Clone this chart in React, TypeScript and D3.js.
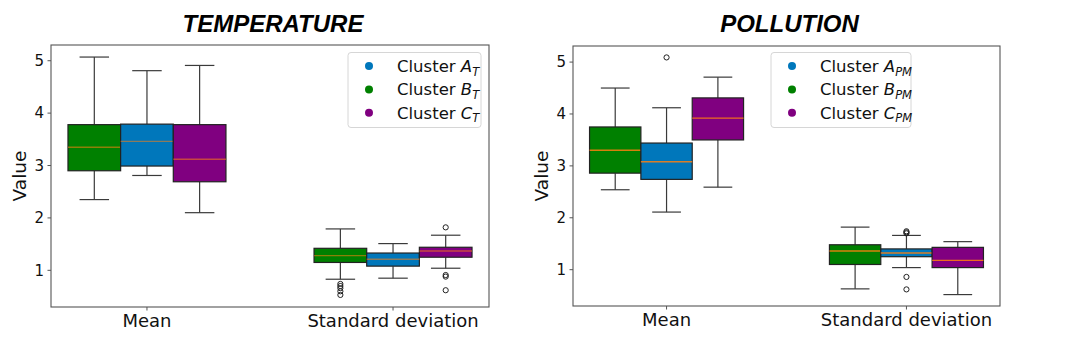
import React from "react";
import * as d3 from "d3";

// ---------- data ----------
const groups = ["Mean", "Standard deviation"];
const yTicks = [1, 2, 3, 4, 5];

// box order inside each group: green, blue, purple
// stats: [lower whisker, Q1, median, Q3, upper whisker] for [Mean, Standard deviation]
const tempGreen = [[2.35, 2.9, 3.35, 3.78, 5.07], [0.83, 1.15, 1.28, 1.42, 1.79]];
const tempBlue = [[2.81, 2.99, 3.46, 3.79, 4.81], [0.85, 1.08, 1.21, 1.33, 1.51]];
const tempPurple = [[2.1, 2.69, 3.12, 3.78, 4.91], [1.04, 1.25, 1.37, 1.44, 1.67]];
const tempGreenOut = [[], [0.74, 0.7, 0.66, 0.6, 0.53]];
const tempBlueOut = [[], []];
const tempPurpleOut = [[], [1.82, 0.91, 0.88, 0.62]];

const polGreen = [[2.54, 2.86, 3.3, 3.75, 4.5], [0.63, 1.1, 1.36, 1.48, 1.82]];
const polBlue = [[2.11, 2.74, 3.08, 3.44, 4.12], [1.04, 1.25, 1.32, 1.4, 1.66]];
const polPurple = [[2.59, 3.5, 3.92, 4.31, 4.71], [0.52, 1.04, 1.18, 1.43, 1.54]];
const polGreenOut = [[], []];
const polBlueOut = [[5.09], [1.74, 1.72, 1.7, 0.86, 0.62]];
const polPurpleOut = [[], []];

const tempLegend = [
  { letter: "A", sub: "T" },
  { letter: "B", sub: "T" },
  { letter: "C", sub: "T" },
];
const polLegend = [
  { letter: "A", sub: "PM" },
  { letter: "B", sub: "PM" },
  { letter: "C", sub: "PM" },
];

// ---------- styles ----------
const BOX_COLORS = ["#008000", "#0077bb", "#800080"];
const LEGEND_COLORS = ["#0077bb", "#008000", "#800080"];
const FONT = "'DejaVu Sans', sans-serif";

type PanelProps = {
  title: string;
  x0: number;
  x1: number;
  y0: number;
  y1: number;
  yMax: number;
  series: number[][][];
  outliers: number[][][];
  legend: { letter: string; sub: string }[];
  legendBox: { x: number; w: number };
  medianOpacity: number;
};

function Panel(p: PanelProps) {
  const x = d3.scalePoint<string>().domain(groups).range([p.x0, p.x1]).padding(0.39);
  const y = d3.scaleLinear().domain([0.3, p.yMax]).range([p.y1, p.y0]);
  const step = x.step();
  const bw = step * 0.214;
  const capW = bw * 0.56;
  const cx = (p.x0 + p.x1) / 2;

  return (
    <g>
      <text
        x={cx + 3}
        y={32}
        textAnchor="middle"
        fontFamily="'Liberation Sans', Arial, sans-serif"
        fontWeight="bold"
        fontStyle="italic"
        fontSize={24}
      >
        {p.title}
      </text>

      {/* boxes */}
      {groups.map((g, gi) =>
        p.series.map((s, si) => {
          const [lo, q1, med, q3, hi] = s[gi];
          const c = (x(g) as number) + (si - 1) * bw;
          const left = c - bw / 2;
          return (
            <g key={g + si}>
              <line x1={c} x2={c} y1={y(q3)} y2={y(hi)} stroke="#3a3a3a" strokeWidth={1.2} />
              <line x1={c} x2={c} y1={y(q1)} y2={y(lo)} stroke="#3a3a3a" strokeWidth={1.2} />
              <line x1={c - capW / 2} x2={c + capW / 2} y1={y(hi)} y2={y(hi)} stroke="#3a3a3a" strokeWidth={1.2} />
              <line x1={c - capW / 2} x2={c + capW / 2} y1={y(lo)} y2={y(lo)} stroke="#3a3a3a" strokeWidth={1.2} />
              <rect
                x={left}
                y={y(q3)}
                width={bw}
                height={y(q1) - y(q3)}
                fill={BOX_COLORS[si]}
                stroke="#222"
                strokeWidth={1.2}
              />
              <line
                x1={left}
                x2={left + bw}
                y1={y(med)}
                y2={y(med)}
                stroke="#ff7f0e"
                strokeOpacity={p.medianOpacity}
                strokeWidth={1.4}
              />
              {p.outliers[si][gi].map((v, k) => (
                <circle key={k} cx={c} cy={y(v)} r={2.6} fill="none" stroke="#222" strokeWidth={1} />
              ))}
            </g>
          );
        })
      )}

      {/* frame */}
      <rect x={p.x0} y={p.y0} width={p.x1 - p.x0} height={p.y1 - p.y0} fill="none" stroke="#555" strokeWidth={1.1} />

      {/* y axis */}
      {yTicks.map((t) => (
        <g key={t}>
          <line x1={p.x0 - 3.5} x2={p.x0} y1={y(t)} y2={y(t)} stroke="#555" strokeWidth={1} />
          <text x={p.x0 - 7} y={y(t) + 5.3} textAnchor="end" fontFamily={FONT} fontSize={15} fill="#111">
            {t}
          </text>
        </g>
      ))}
      <text
        transform={`translate(${p.x0 - 25},${(p.y0 + p.y1) / 2}) rotate(-90)`}
        textAnchor="middle"
        fontFamily={FONT}
        fontSize={18.5}
        fill="#111"
      >
        Value
      </text>

      {/* x axis */}
      {groups.map((g) => (
        <g key={g}>
          <line x1={x(g) as number} x2={x(g) as number} y1={p.y1} y2={p.y1 + 3.5} stroke="#555" strokeWidth={1} />
          <text x={x(g) as number} y={p.y1 + 20} textAnchor="middle" fontFamily={FONT} fontSize={18} fill="#111">
            {g}
          </text>
        </g>
      ))}

      {/* legend */}
      <rect
        x={p.legendBox.x}
        y={52.5}
        width={p.legendBox.w}
        height={75}
        rx={3}
        fill="white"
        fillOpacity={0.8}
        stroke="#d6d6d6"
        strokeWidth={1}
      />
      {p.legend.map((l, i) => {
        const ly = 66 + i * 23.4;
        return (
          <g key={i}>
            <circle cx={p.legendBox.x + 21} cy={ly} r={4} fill={LEGEND_COLORS[i]} />
            <text x={p.legendBox.x + 49} y={ly + 6} fontFamily={FONT} fontSize={16.5} fill="#111">
              Cluster{" "}
              <tspan fontStyle="italic">{l.letter}</tspan>
              <tspan fontStyle="italic" fontSize={11.5} dy={3.5}>
                {l.sub}
              </tspan>
            </text>
          </g>
        );
      })}
    </g>
  );
}

export default function App() {
  return (
    <div style={{ position: "absolute", left: 0, top: 0 }}>
      <svg width={1080} height={339} style={{ display: "block", background: "white" }}>
        <Panel
          title="TEMPERATURE"
          x0={51}
          x1={489}
          y0={45}
          y1={307}
          yMax={5.3}
          series={[tempGreen, tempBlue, tempPurple]}
          outliers={[tempGreenOut, tempBlueOut, tempPurpleOut]}
          legend={tempLegend}
          legendBox={{ x: 348, w: 133 }}
          medianOpacity={0.55}
        />
        <Panel
          title="POLLUTION"
          x0={573}
          x1={1000}
          y0={46}
          y1={306}
          yMax={5.31}
          series={[polGreen, polBlue, polPurple]}
          outliers={[polGreenOut, polBlueOut, polPurpleOut]}
          legend={polLegend}
          legendBox={{ x: 771, w: 140 }}
          medianOpacity={0.85}
        />
      </svg>
    </div>
  );
}
